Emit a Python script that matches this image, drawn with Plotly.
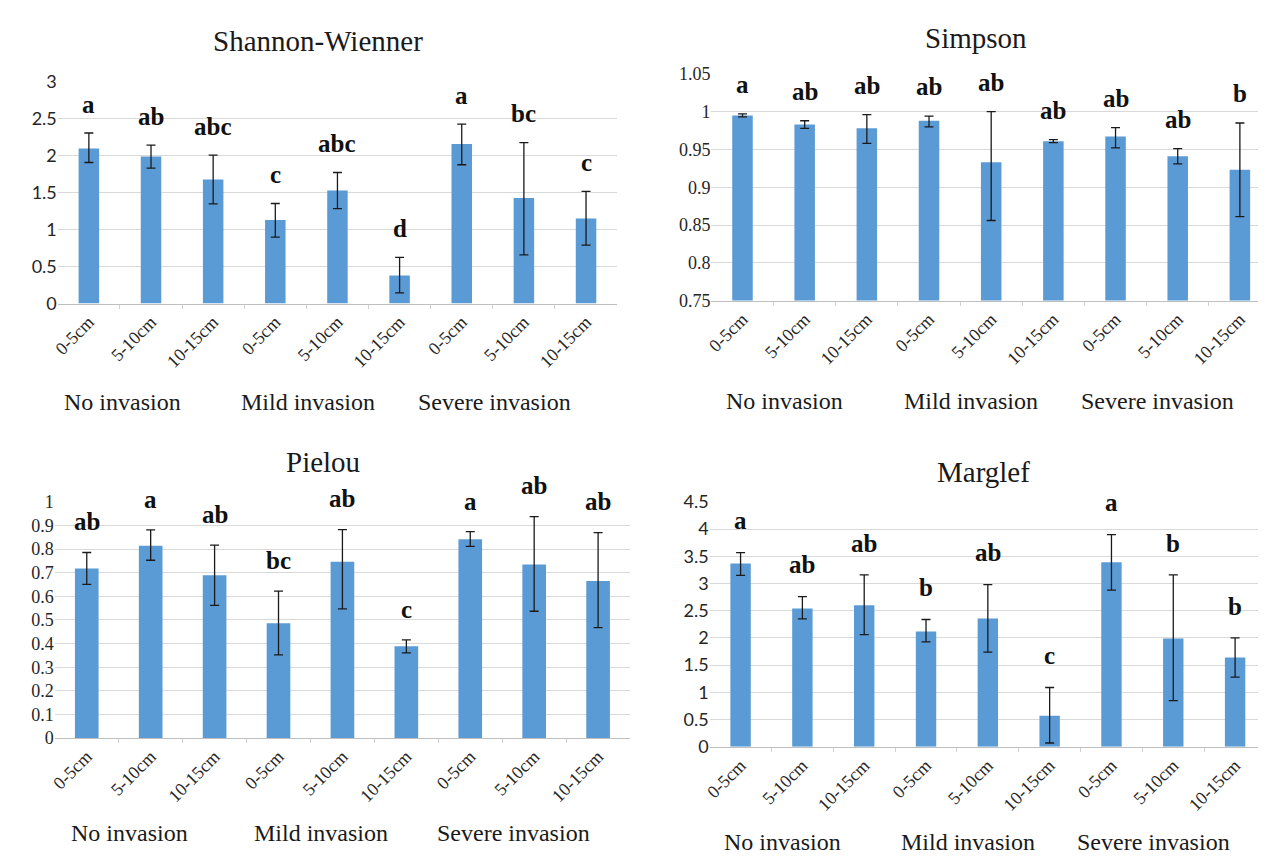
import plotly.graph_objects as go

# ---------------- data ----------------
depths = ["0-5cm", "5-10cm", "10-15cm"]
groups = ["No invasion", "Mild invasion", "Severe invasion"]
tick_labels = [d for g in groups for d in depths]

shannon_mean = [2.10, 1.99, 1.68, 1.13, 1.53, 0.38, 2.16, 1.43, 1.15]
shannon_err_plus = [0.21, 0.155, 0.33, 0.225, 0.245, 0.245, 0.27, 0.75, 0.37]
shannon_err_minus = [0.19, 0.155, 0.33, 0.23, 0.245, 0.235, 0.28, 0.77, 0.36]
shannon_letters = ["a", "ab", "abc", "c", "abc", "d", "a", "bc", "c"]

simpson_mean = [0.995, 0.983, 0.978, 0.988, 0.933, 0.961, 0.967, 0.941, 0.923]
simpson_err_plus = [0.002, 0.005, 0.018, 0.006, 0.067, 0.002, 0.012, 0.010, 0.062]
simpson_err_minus = [0.002, 0.005, 0.020, 0.008, 0.077, 0.002, 0.015, 0.010, 0.062]
simpson_letters = ["a", "ab", "ab", "ab", "ab", "ab", "ab", "ab", "b"]

pielou_mean = [0.718, 0.815, 0.690, 0.486, 0.747, 0.389, 0.842, 0.735, 0.665]
pielou_err_plus = [0.068, 0.067, 0.127, 0.136, 0.136, 0.027, 0.032, 0.203, 0.205]
pielou_err_minus = [0.067, 0.062, 0.128, 0.134, 0.200, 0.028, 0.030, 0.198, 0.197]
pielou_letters = ["ab", "a", "ab", "bc", "ab", "c", "a", "ab", "ab"]

marglef_mean = [3.37, 2.54, 2.60, 2.12, 2.36, 0.57, 3.39, 1.99, 1.64]
marglef_err_plus = [0.20, 0.22, 0.56, 0.22, 0.62, 0.52, 0.51, 1.17, 0.36]
marglef_err_minus = [0.22, 0.19, 0.54, 0.19, 0.62, 0.50, 0.51, 1.14, 0.36]
marglef_letters = ["a", "ab", "ab", "b", "ab", "c", "a", "b", "b"]

# ---------------- layout helpers ----------------
# the page body has an 8px margin, so the figure is 8px smaller and all
# page-pixel positions are shifted by 8px
OFF = 8
W, H = 1266 - OFF, 862 - OFF
def px(x):
    return (x - OFF) / W
def py(y):
    return 1 - (y - OFF) / H

BAR = "#5b9bd5"
GRID = "#d9d9d9"
SERIF = "Liberation Serif"
SANS = "Lato"

panels = [
    dict(title="Shannon-Wienner", mean=shannon_mean, plus=shannon_err_plus,
         minus=shannon_err_minus, letters=shannon_letters,
         yrange=[0, 3], dtick=0.5, xpix=(52, 614), ypix=(299, 71.7),
         xrange=[-0.5, 8.5], yfont=SANS, bw=0.33,
         tpos=(313, 30), gy=400, gshift=-29),
    dict(title="Simpson", mean=simpson_mean, plus=simpson_err_plus,
         minus=simpson_err_minus, letters=simpson_letters,
         yrange=[0.75, 1.05], dtick=0.05, xpix=(708.75, 1266), ypix=(296, 63.3),
         xrange=[-0.5, 8.42], yfont=SERIF, bw=0.33,
         tpos=(975, 26), gy=399, gshift=-20),
    dict(title="Pielou", mean=pielou_mean, plus=pielou_err_plus,
         minus=pielou_err_minus, letters=pielou_letters,
         yrange=[0, 1], dtick=0.1, xpix=(49, 627), ypix=(745, 502.7),
         xrange=[-0.5, 8.5], yfont=SERIF, bw=0.37,
         tpos=(318, 462), gy=842, gshift=-21),
    dict(title="Marglef", mean=marglef_mean, plus=marglef_err_plus,
         minus=marglef_err_minus, letters=marglef_letters,
         yrange=[0, 4.5], dtick=0.5, xpix=(707, 1266), ypix=(754, 502.7),
         xrange=[-0.5, 8.5], yfont=SANS, bw=0.33,
         tpos=(982, 472), gy=852, gshift=-20),
]

fig = go.Figure()
annotations = []
layout = dict(width=W, height=H, margin=dict(l=0, r=0, t=0, b=0),
              paper_bgcolor="white", plot_bgcolor="white", showlegend=False)

xs = list(range(len(tick_labels)))
for i, p in enumerate(panels, start=1):
    xa = "x" if i == 1 else f"x{i}"
    ya = "y" if i == 1 else f"y{i}"
    fig.add_trace(go.Bar(
        x=xs, y=p["mean"], xaxis=xa, yaxis=ya, width=p["bw"],
        marker=dict(color=BAR, line=dict(width=0)),
        error_y=dict(type="data", symmetric=False, array=p["plus"],
                     arrayminus=p["minus"], color="#1a1a1a",
                     thickness=1.3, width=4.5),
        hoverinfo="skip",
    ))
    y0, y1 = p["yrange"]
    rng = y1 - y0
    ydom = [py(p["ypix"][0]), py(p["ypix"][1])]
    layout[f"xaxis{'' if i == 1 else i}"] = dict(
        domain=[px(p["xpix"][0]), px(p["xpix"][1])], anchor=ya,
        range=p["xrange"], tickmode="array", tickvals=xs, ticktext=tick_labels,
        tickangle=-45, ticks="", showgrid=False, zeroline=False,
        showline=True, linecolor="#bfbfbf", linewidth=1,
        tickfont=dict(family=SERIF, size=18, color="#262626"),
        minor=dict(tickmode="array", tickvals=[v + 0.5 for v in xs[:-1]],
                   ticks="outside", ticklen=4, tickcolor="#d0d0d0"),
        fixedrange=True,
    )
    layout[f"yaxis{'' if i == 1 else i}"] = dict(
        domain=ydom, anchor=xa,
        range=p["yrange"], dtick=p["dtick"], tick0=y0,
        showgrid=True, gridcolor=GRID, gridwidth=1.2, zeroline=False,
        showline=False, ticks="",
        tickfont=dict(family=p["yfont"], size=18, color="#262626"),
        fixedrange=True,
    )
    # title
    annotations.append(dict(
        text=p["title"], xref="paper", yref="paper",
        x=px(p["tpos"][0]), y=py(p["tpos"][1]), xanchor="center", yanchor="middle",
        showarrow=False, font=dict(family=SERIF, size=29, color="#1a1a1a")))
    # significance letters (above the error bar, may sit above the axis top)
    for j, (m, e, lt) in enumerate(zip(p["mean"], p["plus"], p["letters"])):
        val = m + e + 0.13 * rng
        ypaper = ydom[0] + (val - y0) / rng * (ydom[1] - ydom[0])
        annotations.append(dict(
            text=f"<b>{lt}</b>", xref=xa, yref="paper", x=j, y=ypaper,
            xanchor="center", yanchor="middle", showarrow=False,
            font=dict(family=SERIF, size=25, color="#111111")))
    # group labels
    for k, g in enumerate(groups):
        annotations.append(dict(
            text=g, xref=xa, yref="paper", x=k * 3 + 1, y=py(p["gy"]),
            xanchor="center", yanchor="middle", xshift=p["gshift"], showarrow=False,
            font=dict(family=SERIF, size=24, color="#1a1a1a")))

layout["annotations"] = annotations
fig.update_layout(**layout)
fig.write_html("out.html")
